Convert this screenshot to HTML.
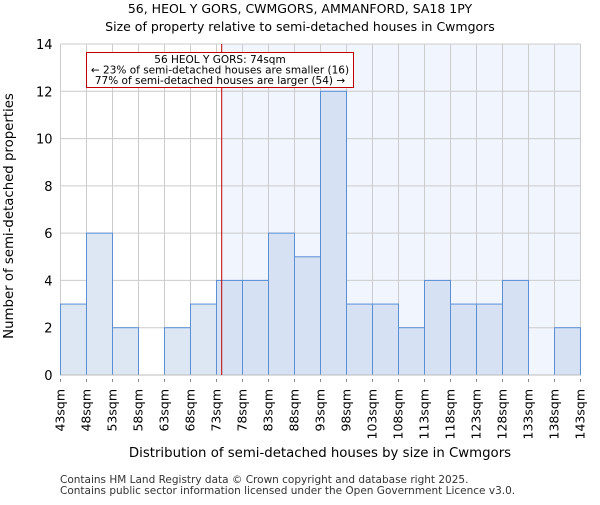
<!DOCTYPE html>
<html><head><meta charset="utf-8"><style>
body{margin:0;background:#fff;}
svg{font-family:"DejaVu Sans","Liberation Sans",sans-serif;}
</style></head><body>
<svg id="chart" width="600" height="500" xmlns="http://www.w3.org/2000/svg">
<text x="300" y="13" text-anchor="middle" font-size="12.5">56, HEOL Y GORS, CWMGORS, AMMANFORD, SA18 1PY</text>
<text x="300" y="31" text-anchor="middle" font-size="12.5">Size of property relative to semi-detached houses in Cwmgors</text>
<g id="plot"></g>
<text x="320" y="457" text-anchor="middle" font-size="13.3">Distribution of semi-detached houses by size in Cwmgors</text>
<text transform="translate(13,216) rotate(-90)" text-anchor="middle" font-size="13.3">Number of semi-detached properties</text>
<text x="60" y="483" font-size="10.5" fill="#333">Contains HM Land Registry data © Crown copyright and database right 2025.</text>
<text x="60" y="494" font-size="10.5" fill="#333">Contains public sector information licensed under the Open Government Licence v3.0.</text>
</svg>
<script>
const categories=["43sqm","48sqm","53sqm","58sqm","63sqm","68sqm","73sqm","78sqm","83sqm","88sqm","93sqm","98sqm","103sqm","108sqm","113sqm","118sqm","123sqm","128sqm","133sqm","138sqm","143sqm"];
const binStarts=[43,48,53,58,63,68,73,78,83,88,93,98,103,108,113,118,123,128,133,138];
const counts=[3,6,2,0,2,3,4,4,6,5,12,3,3,2,4,3,3,4,0,2];
const yTicks=[0,2,4,6,8,10,12,14];
const subjectSize=74;
const NS="http://www.w3.org/2000/svg";
const L=60.5,R=580.5,T=44,B=375;
const xMin=43,xMax=143,yMax=14;
const x=v=>L+(v-xMin)/(xMax-xMin)*(R-L);
const y=v=>B-v/yMax*(B-T);
const g=document.getElementById('plot');
function mk(tag,attrs){const e=document.createElementNS(NS,tag);for(const k in attrs)e.setAttribute(k,attrs[k]);g.appendChild(e);return e;}
let e;
e=mk('rect',{x:x(subjectSize),y:T,width:R-x(subjectSize),height:B-T,fill:'#f1f5fd'});


yTicks.forEach(t=>{
 e=mk('line',{x1:L,x2:R,y1:y(t),y2:y(t),stroke:'#cccccc','stroke-width':1});
 
 
 e=mk('text',{x:L-8,y:y(t)+5,'text-anchor':'end','font-size':13});
 e.textContent=t;
 
 
});
categories.forEach((c,i)=>{
 const v=xMin+i*5;
 e=mk('line',{x1:x(v),x2:x(v),y1:T,y2:B,stroke:'#cccccc','stroke-width':1});
 
 
 e=mk('line',{x1:x(v),x2:x(v),y1:B+4,y2:B+7,stroke:'#888','stroke-width':1});
 
 
 e=mk('text',{'text-anchor':'end','font-size':12.5,transform:`translate(${x(v)+4},${B+14}) rotate(-90)`});
 e.textContent=c;
 
 
});
counts.forEach((c,i)=>{
 if(c<=0)return;
 const x0=x(binStarts[i]),x1=x(binStarts[i]+5);
 const right=binStarts[i]>=subjectSize-1;
 e=mk('rect',{x:x0,y:y(c),width:x1-x0,height:y(0)-y(c),fill:right?'#d6e1f3':'#dde7f4',stroke:'#5a8fd6','stroke-width':1});
 
 
});
e=mk('line',{x1:L,x2:R,y1:B,y2:B,stroke:'#bbb','stroke-width':1});


e=mk('line',{x1:x(subjectSize),x2:x(subjectSize),y1:T,y2:B,stroke:'#c00000','stroke-width':1});


e=mk('rect',{x:86.5,y:52.5,width:267,height:35,fill:'#fff',stroke:'#c00000','stroke-width':1});


[["56 HEOL Y GORS: 74sqm",62.5],["← 23% of semi-detached houses are smaller (16)",73],["77% of semi-detached houses are larger (54) →",83.5]].forEach((a,i)=>{
 e=mk('text',{x:220,y:a[1]+0.5,'text-anchor':'middle','font-size':10.5});
 e.textContent=a[0];
 
 
});
</script>
</body></html>
